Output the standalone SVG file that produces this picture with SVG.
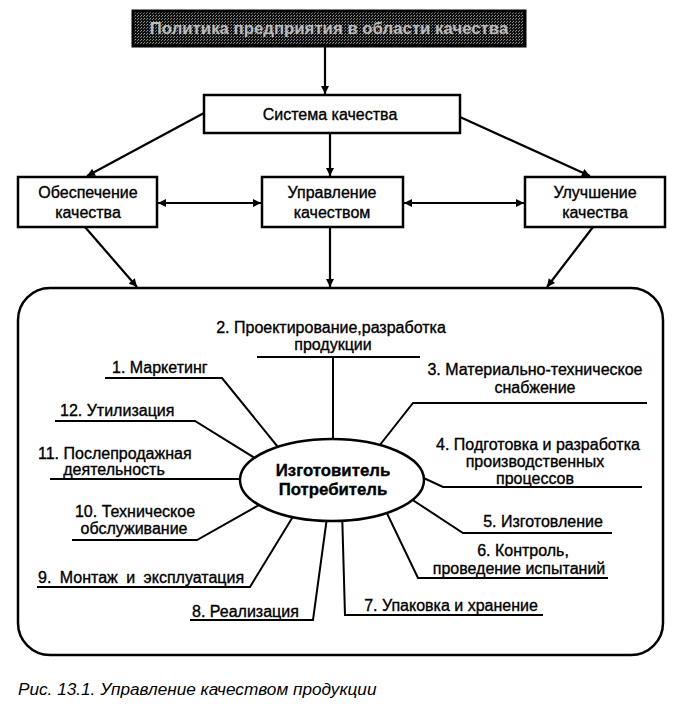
<svg xmlns="http://www.w3.org/2000/svg" width="681" height="726" viewBox="0 0 681 726">
<defs>
<style>
.box{fill:#fff;stroke:#000;stroke-width:2.5}
.ln{fill:none;stroke:#000;stroke-width:2}
.t{font-family:"Liberation Sans",Arial,sans-serif;font-size:16px;fill:#000;stroke:#000;stroke-width:0.35}
.c{text-anchor:middle}
.e{text-anchor:end}
.b{font-weight:bold;font-size:16.8px}
.cap{font-family:"Liberation Sans",Arial,sans-serif;font-size:17.2px;font-style:italic;fill:#000}
</style>
<marker id="ah" viewBox="0 0 10 10" refX="10" refY="5" markerWidth="9" markerHeight="8" markerUnits="userSpaceOnUse" orient="auto-start-reverse">
<path d="M0,0 L10,5 L0,10 z" fill="#000"/>
</marker>
<pattern id="dots" width="3" height="3" patternUnits="userSpaceOnUse">
<rect width="3" height="3" fill="#111"/>
<rect width="1" height="1" fill="#999"/>
<rect x="2" y="1" width="1" height="1" fill="#777"/>
</pattern>
</defs>
<rect width="681" height="726" fill="#fff"/>

<g id="connectors">
<g class="ln" marker-end="url(#ah)" style="stroke-width:2.2">
<line x1="325" y1="46" x2="325" y2="94"/>
<line x1="204" y1="113" x2="87" y2="176"/>
<line x1="460" y1="117" x2="590" y2="176"/>
<line x1="330" y1="133" x2="330" y2="176"/>
<line x1="158" y1="203" x2="261" y2="203" marker-start="url(#ah)"/>
<line x1="404" y1="203" x2="524" y2="203" marker-start="url(#ah)"/>
<line x1="85" y1="227" x2="137" y2="287"/>
<line x1="330" y1="227" x2="330" y2="287"/>
<line x1="593" y1="227" x2="547" y2="287"/>
</g>
<g class="ln">
<polyline points="105,378 222,378 282,452"/>
<polyline points="257,357 420,357"/>
<polyline points="333,357 333,450"/>
<polyline points="647,403 413,403 372,455"/>
<polyline points="55,421 195,421 258,460"/>
<polyline points="642,487 443,487 415,474"/>
<polyline points="50,479 250,479"/>
<polyline points="72,540 197,540 268,500"/>
<polyline points="612,533 463,533 405,495"/>
<polyline points="608,578 418,578 383,505"/>
<polyline points="37,587 250,587 297,510"/>
<polyline points="342,510 345,615 543,615"/>
<polyline points="190,620 313,620 328,510"/>
</g>
</g>

<g id="node-policy">
<rect x="133" y="11" width="392" height="35" fill="url(#dots)" stroke="#000" stroke-width="3"/>
<text class="t c b" x="329" y="34" style="fill:#bbb;stroke:none">Политика предприятия в области качества</text>
</g>

<g id="node-system">
<rect class="box" x="204" y="95" width="256" height="38"/>
<text class="t c" x="330" y="120">Система качества</text>
</g>

<g id="node-assurance">
<rect class="box" x="18" y="177" width="139" height="50"/>
<text class="t c" x="88" y="198">Обеспечение</text>
<text class="t c" x="88" y="218">качества</text>
</g>

<g id="node-management">
<rect class="box" x="262" y="177" width="141" height="50"/>
<text class="t c" x="332" y="198">Управление</text>
<text class="t c" x="332" y="218">качеством</text>
</g>

<g id="node-improvement">
<rect class="box" x="525" y="177" width="140" height="50"/>
<text class="t c" x="595" y="198">Улучшение</text>
<text class="t c" x="595" y="218">качества</text>
</g>

<g id="node-cycle">
<rect x="18" y="288" width="645" height="367" rx="32" ry="32" fill="none" stroke="#000" stroke-width="2.5"/>
</g>

<g id="node-center">
<ellipse cx="332" cy="480" rx="92" ry="41" fill="#fff" stroke="#000" stroke-width="2.5"/>
<text class="t c b" x="333" y="476">Изготовитель</text>
<text class="t c b" x="333" y="495">Потребитель</text>
</g>

<g id="stage-1"><text class="t" x="112" y="373">1. Маркетинг</text></g>
<g id="stage-2">
<text class="t c" x="331" y="333">2. Проектирование,разработка</text>
<text class="t c" x="333" y="350">продукции</text>
</g>
<g id="stage-3">
<text class="t c" x="535" y="375">3. Материально-техническое</text>
<text class="t c" x="535" y="393">снабжение</text>
</g>
<g id="stage-4">
<text class="t c" x="538" y="450">4. Подготовка и разработка</text>
<text class="t c" x="535" y="467">производственных</text>
<text class="t c" x="535" y="484">процессов</text>
</g>
<g id="stage-5"><text class="t c" x="543" y="527">5. Изготовление</text></g>
<g id="stage-6">
<text class="t c" x="523" y="556">6. Контроль,</text>
<text class="t c" x="519" y="574">проведение испытаний</text>
</g>
<g id="stage-7"><text class="t c" x="451" y="611">7. Упаковка и хранение</text></g>
<g id="stage-8"><text class="t" x="192" y="617">8. Реализация</text></g>
<g id="stage-9"><text class="t" x="38" y="583" word-spacing="4">9. Монтаж и эксплуатация</text></g>
<g id="stage-10">
<text class="t c" x="135" y="517">10. Техническое</text>
<text class="t c" x="134" y="534">обслуживание</text>
</g>
<g id="stage-11">
<text class="t" x="38" y="459">11. Послепродажная</text>
<text class="t c" x="114" y="475">деятельность</text>
</g>
<g id="stage-12"><text class="t" x="60" y="416">12. Утилизация</text></g>

<g id="caption"><text class="cap" x="18" y="695">Рис. 13.1. Управление качеством продукции</text></g>
</svg>
